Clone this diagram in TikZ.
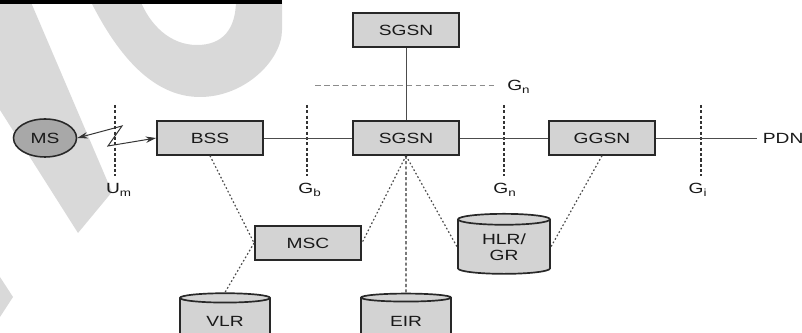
\documentclass[tikz,border=0pt]{standalone}
\usepackage{fontspec}
\setmainfont{Liberation Sans}[FakeStretch=1.3]
\usepackage{tikz}
\usetikzlibrary{arrows.meta,shapes.geometric}
\definecolor{boxgray}{RGB}{211,211,211}
\definecolor{msgray}{RGB}{168,168,168}
\definecolor{wmgray}{RGB}{217,217,217}
\definecolor{inkdark}{RGB}{40,40,40}

\begin{document}
\begin{tikzpicture}[
            x=0.025cm, y=-0.025cm,
            every node/.style={font=\fontsize{10.5}{11.5}\selectfont,text=black!90},
            unit/.style={rectangle,draw=inkdark,line width=1.3pt,fill=boxgray,minimum width=2.65cm,minimum height=0.84cm,inner sep=0pt},
            db/.style={cylinder,shape border rotate=90,draw=inkdark,line width=1.2pt,fill=boxgray,aspect=0.25,minimum width=2.25cm,inner sep=0pt,align=center},
            mobile/.style={ellipse,draw=inkdark,line width=1.1pt,fill=msgray,minimum width=1.575cm,minimum height=0.95cm,inner sep=0pt},
            link/.style={draw=black!70,line width=0.6pt},
            iface/.style={draw=black!80,line width=0.85pt,dash pattern=on 2.2pt off 1.6pt},
            gnline/.style={draw=black!45,line width=0.7pt,dash pattern=on 4pt off 2.5pt},
            sig/.style={draw=black!70,line width=0.85pt,dash pattern=on 1.2pt off 1.6pt},
            air/.style={draw=black!80,line width=0.7pt,{Stealth[length=2.6mm,width=1.6mm]}-{Stealth[length=2.6mm,width=1.6mm]}},
            lbl/.style={inner sep=0pt},
        ]
            \useasboundingbox (0,0) rectangle (802,333);
            \clip (0,0) rectangle (802,333);

            %--- Watermark in the background ---%
            \fill[wmgray] (0,0) -- (30,0) -- (112,192) -- (78,233) -- (0,110) -- cycle;
            \fill[wmgray] (90,0) .. controls (115,50) and (150,97) .. (200,97)
                .. controls (245,97) and (282,60) .. (282,30) -- (282,0) -- (236,0)
                .. controls (236,30) and (222,45) .. (197,45)
                .. controls (170,45) and (150,25) .. (140,0) -- cycle;
            \fill[wmgray] (0,277) -- (13,297) -- (0,317) -- cycle;
            \fill[black] (0,0) rectangle (282,4);

            %--- Nodes ---%
            \node[unit] (sgsnTop) at (406,30) {SGSN};
            \node[mobile] (ms) at (45,138) {MS};
            \node[unit] (bss)  at (210,138) {BSS};
            \node[unit] (sgsn) at (406,138) {SGSN};
            \node[unit] (ggsn) at (602,138) {GGSN};
            \node[lbl,inner xsep=4pt,anchor=west] (pdn) at (757,138) {PDN};
            \node[unit,minimum height=0.85cm] (msc) at (308,243) {MSC};
            \node[db,minimum height=1.5cm,minimum width=2.3cm] (hlr) at (504,247) {HLR/\\GR};
            \node[db,minimum height=1.25cm] (vlr) at (225,321) {VLR};
            \node[db,minimum height=1.25cm] (eir) at (406,321) {EIR};

            %--- Interface labels ---%
            \node[lbl] (lblUm)  at (119,190) {U\textsubscript{m}};
            \node[lbl] (lblGb)  at (310,190) {G\textsubscript{b}};
            \node[lbl] (lblGn)  at (505,190) {G\textsubscript{n}};
            \node[lbl] (lblGi)  at (698,190) {G\textsubscript{i}};
            \node[lbl,anchor=west] (lblGnTop) at (507,87) {G\textsubscript{n}};

            %--- Interface boundaries ---%
            \coordinate (umT) at (115,105);  \coordinate (umB) at (115,176);
            \coordinate (gbT) at (307,105);  \coordinate (gbB) at (307,176);
            \coordinate (gnT) at (504,105);  \coordinate (gnB) at (504,176);
            \coordinate (giT) at (701,105);  \coordinate (giB) at (701,176);
            \coordinate (gnL) at (315,85);   \coordinate (gnR) at (497,85);
            \draw[iface] (umT) -- (umB);
            \draw[iface] (gbT) -- (gbB);
            \draw[iface] (gnT) -- (gnB);
            \draw[iface] (giT) -- (giB);
            \draw[gnline] (gnL) -- (gnR);

            %--- Solid links ---%
            \draw[link] (sgsnTop) -- (sgsn);
            \draw[link] (bss) -- (sgsn);
            \draw[link] (sgsn) -- (ggsn);
            \draw[link] (ggsn) -- (pdn);

            %--- Radio link ---%
            \coordinate (zA) at (122,126);
            \coordinate (zB) at (108,146);
            \draw[air] (ms.east) -- (zA) -- (zB) -- (bss.west);

            %--- Signalling (dotted) ---%
            \draw[sig] (bss.south) -- (msc.west);
            \draw[sig] (msc.west) -- (vlr.north);
            \draw[sig] (sgsn.south) -- (msc.east);
            \draw[sig] (sgsn.south) -- (hlr.west);
            \draw[sig] (ggsn.south) -- (hlr.east);
            \draw[iface] (sgsn.south) -- (eir.north);

        \end{tikzpicture}
\end{document}
